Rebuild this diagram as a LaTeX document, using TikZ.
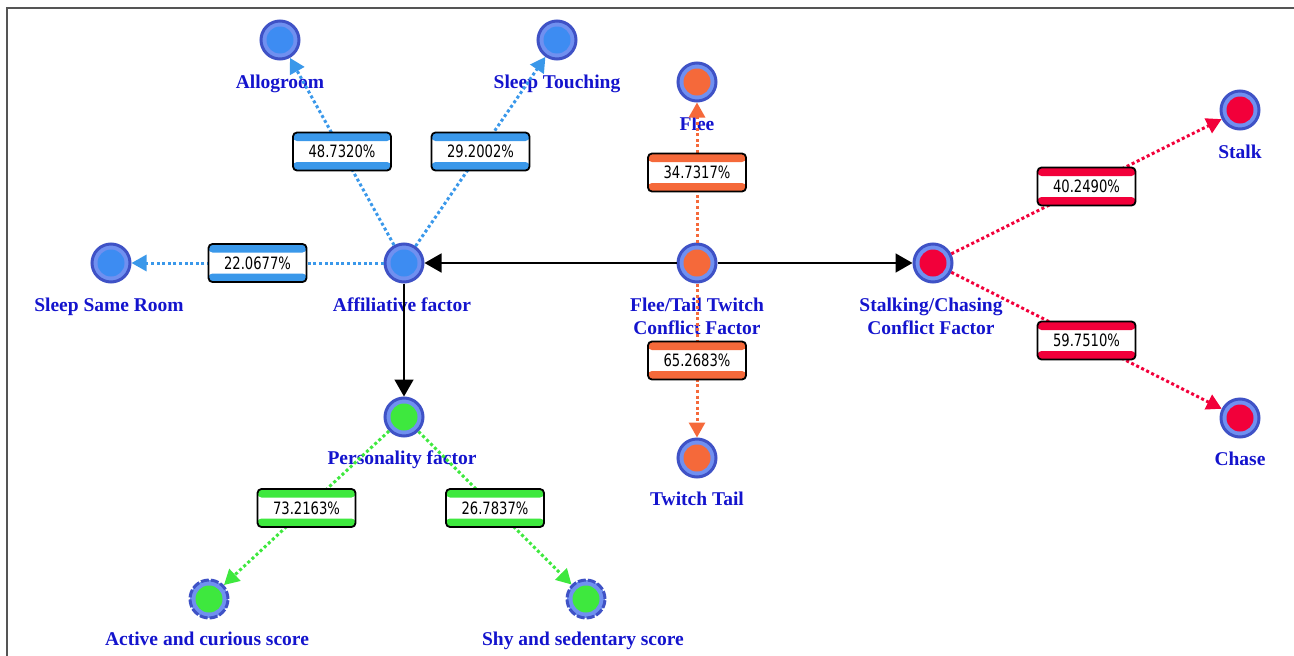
\documentclass[tikz,border=0pt]{standalone}
\usepackage{fontspec}
\setmainfont{Liberation Serif}
\newfontfamily\pctfont[FakeStretch=0.86]{DejaVu Sans Condensed}
\usetikzlibrary{arrows.meta}
\definecolor{bluec}{HTML}{3A98EA}
\definecolor{bluefill}{HTML}{3D8CF2}
\definecolor{orangec}{HTML}{F5693A}
\definecolor{redc}{HTML}{F2003A}
\definecolor{greenc}{HTML}{3EE83E}
\definecolor{ringdark}{HTML}{3F52C6}
\definecolor{ringlight}{HTML}{7090F0}
\definecolor{labc}{RGB}{20,20,205}
\definecolor{framec}{HTML}{555555}
\tikzset{
  fnode/.style={circle, draw=ringdark, line width=3pt, fill=ringlight,
    minimum size=38pt, inner sep=0pt,
    path picture={\fill[#1] (path picture bounding box.center) circle (13.5pt);}},
  fdash/.style={dash pattern=on 8pt off 2pt},
  lab/.style={anchor=base, text=labc, inner sep=0pt,
    font=\fontsize{19.5}{23}\selectfont\bfseries},
  pbox/.style={draw=black, line width=1.8pt, rounded corners=4pt, fill=white,
    minimum width=98pt, minimum height=38pt, inner sep=0pt, solid,
    font=\pctfont\fontsize{17}{20}\selectfont, text=black,
    path picture={
      \fill[#1] (path picture bounding box.north west) rectangle ([yshift=-8.5pt]path picture bounding box.north east);
      \fill[#1] (path picture bounding box.south west) rectangle ([yshift=8.5pt]path picture bounding box.south east);}},
  dotedge/.style={draw=#1, line width=3pt, dash pattern=on 3pt off 2.6pt,
    -{Triangle[length=15pt,width=16pt,fill=#1]}},
  solidedge/.style={draw=black, line width=1.7pt,
    -{Triangle[length=17pt,width=19pt]}},
  frame/.style={draw=framec, line width=2pt}
}
\begin{document}
\begin{tikzpicture}[x=1pt, y=-1pt]
\useasboundingbox (0,0) rectangle (1294,656);
\draw[frame] (7,657) -- (7,8) -- (1295,8);

% circles
\node[fnode=bluefill] (allo) at (280,40) {};
\node[fnode=bluefill] (sleept) at (557,40) {};
\node[fnode=orangec] (flee) at (697,82) {};
\node[fnode=redc] (stalk) at (1240,110) {};
\node[fnode=bluefill] (sleepr) at (111,263) {};
\node[fnode=bluefill] (aff) at (404,263) {};
\node[fnode=orangec] (ftt) at (697,263) {};
\node[fnode=redc] (stc) at (933,263) {};
\node[fnode=greenc] (pers) at (404,417) {};
\node[fnode=orangec] (twitch) at (697,458) {};
\node[fnode=redc] (chase) at (1240,418) {};
\node[fnode=greenc, fdash] (active) at (209,599) {};
\node[fnode=greenc, fdash] (shy) at (586,599) {};

% labels
\node[lab] (allo-l) at (280,88) {Allogroom};
\node[lab] (sleept-l) at (557,88) {Sleep Touching};
\node[lab] (flee-l) at (697,130) {Flee};
\node[lab] (stalk-l) at (1240,158) {Stalk};
\node[lab] (sleepr-l) at (109,311) {Sleep Same Room};
\node[lab] (aff-l) at (402,311) {Affiliative factor};
\node[lab] (pers-l) at (402,464) {Personality factor};
\node[lab] (twitch-l) at (697,505) {Twitch Tail};
\node[lab] (chase-l) at (1240,465) {Chase};
\node[lab] (active-l) at (207,645) {Active and curious score};
\node[lab] (shy-l) at (583,645) {Shy and sedentary score};
\node[lab] (ftt-l) at (697,311) {\begin{tabular}[t]{@{}c@{}}Flee/Tail Twitch\\Conflict Factor\end{tabular}};
\node[lab] (stc-l) at (931,311) {\begin{tabular}[t]{@{}c@{}}Stalking/Chasing\\Conflict Factor\end{tabular}};

% dotted edges with percentage boxes
\draw[dotedge=bluec] (aff) -- node[pbox=bluec] (p1) {48.7320\%} (allo);
\draw[dotedge=bluec] (aff) -- node[pbox=bluec] (p2) {29.2002\%} (sleept);
\draw[dotedge=bluec] (aff) -- node[pbox=bluec] (p3) {22.0677\%} (sleepr);
\draw[dotedge=orangec] (ftt) -- node[pbox=orangec] (p4) {34.7317\%} (flee);
\draw[dotedge=orangec] (ftt) -- node[pbox=orangec] (p5) {65.2683\%} (twitch);
\draw[dotedge=redc] (stc) -- node[pbox=redc] (p6) {40.2490\%} (stalk);
\draw[dotedge=redc] (stc) -- node[pbox=redc] (p7) {59.7510\%} (chase);
\draw[dotedge=greenc] (pers) -- node[pbox=greenc] (p8) {73.2163\%} (active);
\draw[dotedge=greenc] (pers) -- node[pbox=greenc] (p9) {26.7837\%} (shy);

% solid edges
\draw[solidedge] (ftt) -- (aff);
\draw[solidedge] (ftt) -- (stc);
\draw[solidedge] (aff) -- (pers);
\end{tikzpicture}
\end{document}
